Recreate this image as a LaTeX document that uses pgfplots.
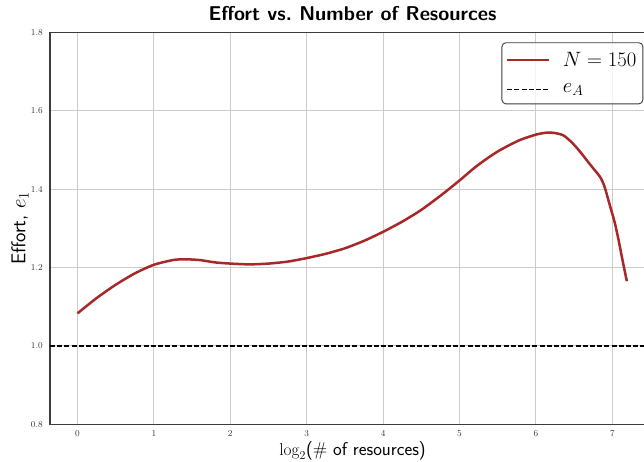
\documentclass[border=0pt]{standalone}
\usepackage{pgfplots}
\pgfplotsset{compat=1.18}

\definecolor{curvecol}{RGB}{167,40,40}
\definecolor{gridcol}{RGB}{204,204,204}
\definecolor{framecol}{RGB}{60,60,60}

\begin{document}
\begin{tikzpicture}
% visible region: the right spine falls just outside it
\path[use as bounding box] (-50pt,-36.7pt) rectangle (594pt,424.3pt);
\clip (-50pt,-36.7pt) rectangle (594pt,424.3pt);
\begin{axis}[
  at={(0,0)}, anchor=south west,
  scale only axis,
  width=605.1pt, height=392pt,
  xmin=-0.36, xmax=7.56,
  ymin=0.8, ymax=1.8,
  xtick={0,1,...,7},
  ytick={0.8,1.0,1.2,1.4,1.6,1.8},
  yticklabel style={/pgf/number format/fixed,/pgf/number format/fixed zerofill,/pgf/number format/precision=1},
  major tick length=0pt,
  tick label style={font=\fontsize{9}{10}\selectfont, text=black!80},
  xticklabel style={inner sep=0pt, anchor=north, yshift=-6.5pt},
  yticklabel style={inner sep=0pt, anchor=east, xshift=-7pt},
  grid=major,
  major grid style={draw=gridcol, line width=0.9pt},
  axis line style={draw=framecol, line width=1.1pt},
  title={\sffamily\bfseries Effort vs.\ Number of Resources},
  title style={font=\fontsize{20}{24}\selectfont, at={(axis description cs:0.5,1)}, anchor=base, yshift=5.6pt, inner sep=0pt},
  xlabel={$\log_2$(\# of resources)},
  xlabel style={font=\fontsize{18.5}{22}\selectfont\sffamily, at={(axis description cs:0.5,0)}, anchor=base, yshift=-31.5pt, inner sep=0pt},
  ylabel={Effort, $e_1$},
  ylabel style={font=\fontsize{20}{24}\selectfont\sffamily, at={(axis description cs:-0.0405,0.5)}, anchor=base, rotate=0, inner sep=0pt},
  legend style={
    at={(axis description cs:0.9805,0.9745)}, anchor=north east,
    draw=framecol, line width=0.9pt, rounded corners=4pt,
    fill=white, fill opacity=0.8, text opacity=1,
    font=\fontsize{20}{24}\selectfont,
    inner xsep=4pt, inner ysep=7pt,
    row sep=11pt, column sep=10pt,
    nodes={inner sep=2.5pt},
  },
  legend cell align=left,
  legend image code/.code={\draw[#1] (0pt,0pt) -- (42pt,0pt);},
]
\addplot[curvecol, line width=2.5pt, smooth, tension=0.4] coordinates {
  (0.00,1.083) (0.25,1.122) (0.50,1.156) (0.75,1.185) (1.00,1.207)
  (1.25,1.219) (1.40,1.221) (1.60,1.219) (1.80,1.213) (2.00,1.210)
  (2.25,1.208) (2.50,1.210) (2.75,1.215) (3.00,1.224) (3.25,1.235)
  (3.50,1.249) (3.75,1.268) (4.00,1.291) (4.25,1.317) (4.50,1.347)
  (4.75,1.383) (5.00,1.422) (5.20,1.455) (5.36,1.478) (5.50,1.496)
  (5.65,1.512) (5.80,1.526) (6.00,1.539) (6.14,1.544) (6.25,1.543)
  (6.36,1.537) (6.47,1.519) (6.58,1.495) (6.70,1.465) (6.84,1.431)
  (6.90,1.405) (6.97,1.357) (7.03,1.316) (7.08,1.272) (7.13,1.222)
  (7.19,1.165)
};
\addlegendentry{$N = 150$}
\addplot[black, line width=1.25pt, dash pattern=on 5pt off 2.2pt] coordinates {(-0.36,1.0) (7.56,1.0)};
\addlegendentry{$e_A$}
\end{axis}
\end{tikzpicture}
\end{document}
